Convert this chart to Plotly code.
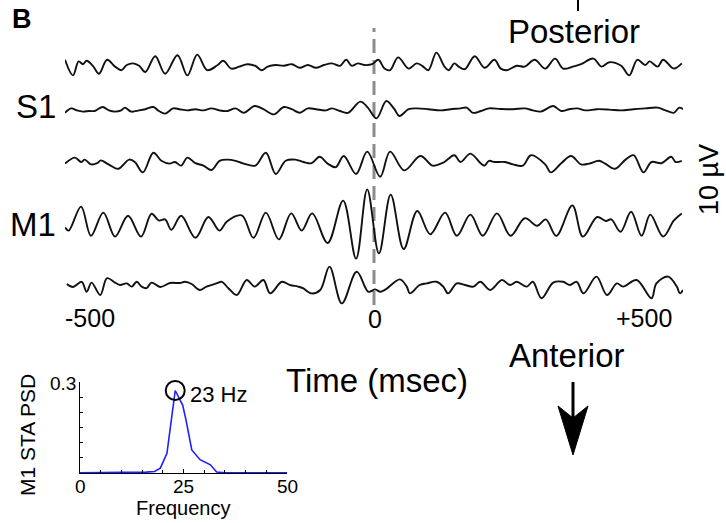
import plotly.graph_objects as go

W, H = 726, 523
FONT = "Liberation Sans, Arial, sans-serif"

# Spike-triggered LFP averages on five electrodes, posterior (top) to anterior (bottom).
# Times in ms relative to the spike, amplitudes in microvolts.
t_e1 = [-500, -487, -478, -471, -465, -455, -445, -432, -419, -409, -400, -390, -380, -370, -354,
        -338, -318, -302, -286, -270, -253, -244, -231, -218, -205, -192, -182, -172, -159, -146,
        -133, -120, -107, -94, -81, -68, -55, -45, -36, -26, -16, -3, 7, 17, 26, 39, 56, 69, 78, 88,
        101, 114, 121, 130, 137, 147, 163, 179, 195, 205, 215, 231, 244, 260, 277, 293, 306, 322,
        335, 355, 368, 381, 400, 413, 426, 439, 446, 459, 468, 485, 498]
uv_e1 = [1.3, -2.6, 0.9, 0.2, 1.05, -0.2, -2.2, 1.3, -0.4, -1.3, 0, 0.4, -0.2, -1.75, 2.2,
         -2.2, 2.45, -2.6, 2.6, -1.3, 0, 1.05, -0.9, -0.4, 0.2, -0.2, -1.3, -0.4, 0, -0.2,
         0.2, -0.7, 0, -0.7, 0, 0.4, -0.2, 1.3, -0.2, 0.4, 0, 0.2, 1.3, -0.9, -1.3, 1.9, -0.9, 0.4,
         -0.2, -1.3, 3.1, -0.4, -1.3, 0.4, -0.4, -1.05, 2.2, -0.7, 1.3, -0.9, -1.3, -0.2, -0.4,
         1.3, -0.9, 1.6, -0.9, -0.4, 0.2, 1.6, -0.4, 0.7, -0.2, -2.6, 1.3, 0, 0.9, -0.4, 1.3,
         -0.9, 0.4]

t_s1 = [-500, -490, -481, -471, -461, -452, -439, -429, -419, -409, -403, -393, -380, -370, -357,
        -348, -338, -325, -315, -302, -289, -276, -263, -250, -237, -224, -211, -193, -179, -162,
        -146, -133, -120, -107, -94, -78, -68, -55, -42, -22, -10, 4, 20, 33, 41, 56, 69, 88, 108,
        124, 140, 150, 160, 173, 186, 205, 225, 244, 257, 270, 290, 303, 316, 329, 342, 361, 381,
        400, 420, 439, 459, 472, 485, 494, 500]
uv_s1 = [-0.7, 0.4, -0.1, -0.4, -0.25, -0.25, 0.75, -0.1, -0.4, -0.1, 0.6, -0.4, -0.1, 0.2, 0.75,
         -0.25, -0.9, 0.4, 0.2, -0.1, 0.2, -0.1, 0.4, -0.1, -0.25, 0.4, -0.7, 1.0, 0.2, -1.1,
         0.75, 0.2, -0.7, 0.4, 0.2, -0.1, 0.4, -0.25, -0.7, 2.1, 0.6, -2.1, 2.25, 0.2, -1.5,
         0.2, 0.4, 0.2, -0.1, 0.2, 0.4, 0.6, -0.7, -0.25, 0.4, 0.25, 0.2, 0.4, -0.1, -0.4,
         1.0, -0.25, 0.2, 0.4, -0.1, 0.2, 0.1, -0.1, 0.2, 0.4, 0.6, -0.1, -0.7, 0.6, 0.2]

t_e3 = [-500, -484, -474, -468, -458, -448, -442, -432, -426, -414, -396, -387, -374, -357, -344,
        -331, -322, -312, -302, -289, -276, -263, -250, -237, -224, -211, -192, -175, -159, -143,
        -127, -114, -101, -88, -75, -62, -49, -29, -11, 10, 26, 49, 75, 95, 108, 114, 130, 140,
        156, 173, 179, 186, 195, 212, 225, 241, 254, 277, 286, 303, 319, 335, 348, 364, 374, 390,
        407, 420, 436, 449, 465, 481, 488, 498]
uv_e3 = [-0.4, 1.1, 0, 0.6, -0.6, -0.3, 0.4, -0.4, -0.9, -1.7, 0.6, 0, -2.6, 2.3, 0.3,
         -0.4, 0, -0.9, 1.1, -0.3, -0.9, -2.0, 0.3, 0.6, 0.3, -0.4, -0.9, 2.3, -3.0, 0.3,
         0.6, 0, -0.3, 1.3, -0.4, -1.3, 1.5, -3.0, 2.6, -3.7, 2.6, -2.1, 1.5, -0.9, -0.4,
         0, 1.7, 0, 2.1, -0.4, -0.9, 0.3, 0, 0, -0.6, -0.9, 1.7, -0.6, -2.6, -0.3,
         1.5, -0.6, -0.4, 0.3, -0.4, -1.7, 0.6, 1.7, -2.6, 0, -0.3, 1.3, 0, 0.3]

t_m1 = [-500, -494, -474, -458, -438, -419, -398, -377, -360, -348, -338, -328, -312, -289, -268,
        -250, -238, -214, -195, -175, -154, -134, -117, -100, -75, -50, -29, -11, 8, 27, 48, 70,
        91, 115, 134, 156, 176, 199, 221, 244, 264, 278, 295, 321, 338, 361, 375, 384, 399, 416,
        433, 447, 468, 485, 498]
uv_m1 = [-0.1, -0.9, 5.1, -2.2, 3.6, -2.4, 2.8, -2.4, 3.3, 1.6, 1.9, -0.7, 2.8, -2.7, 2.5,
         -0.9, 1.4, 2.9, -2.7, 3.6, -3.1, 3.4, -0.9, 3.4, -4.0, 6.6, -7.9, 9.4, -6.6, 8.1,
         -5.5, 4.0, -1.8, 3.6, -2.2, 3.1, -2.2, 3.4, -2.2, 2.2, 0.3, 1.9, -2.2, 5.4, -2.4,
         2.5, 1.5, 1.9, -1.2, 3.8, -2.2, 3.1, -2.4, 1.6, 3.4]

t_e5 = [-497, -487, -473, -465, -457, -443, -432, -419, -411, -400, -392, -384, -376, -368, -360,
        -346, -330, -314, -306, -295, -282, -271, -255, -246, -236, -222, -206, -193, -179, -168,
        -149, -136, -123, -115, -101, -87, -72, -52, -28, -9, 2, 10, 19, 42, 53, 58, 74, 85, 101,
        112, 120, 134, 147, 161, 172, 188, 207, 220, 231, 247, 257, 271, 290, 306, 317, 328, 339,
        360, 377, 393, 403, 425, 449, 457, 476, 490, 495, 500]
uv_e5 = [0.75, 0, 1.3, -1.2, 1.1, -2.0, 2.2, 1.1, 0.5, 0.9, 0.1, 1.3, 0.1, -0.3, 1.1,
         0, 1.0, 1.0, 1.3, 0.75, -0.75, 0.1, 0.9, 1.3, -0.25, -2.0, 1.75, 0.1, 1.75, -1.6,
         1.3, 0.5, 0.1, -0.3, -1.6, -0.75, 5.1, -4.1, 3.8, -1.2, -0.6, -1.2, -0.6, 1.9, 0.1,
         -1.6, 0.5, 0.9, 1.3, 0.1, -1.6, 0.9, 0.5, 0.1, 1.3, -0.75, 1.75, 0.5, 1.3, 0.1,
         1.3, -2.8, 1.1, 1.3, 0.5, 1.3, -1.6, 2.6, -2.0, 0.9, 0.1, 1.75, -2.8, 0.9, 2.6,
         0.1, -1.6, -0.75]

channel_labels = ["", "S1", "", "M1", ""]

# Power spectrum of the M1 spike-triggered average
psd_freq = [0, 3, 6, 8, 10, 13, 16, 18, 19.4, 21, 23, 24.8, 25.6, 27, 29, 31.5, 33, 35, 40, 45, 50]
psd_val = [0.001, 0.001, 0.002, 0.003, 0.002, 0.002, 0.003, 0.005, 0.016, 0.065, 0.272, 0.224,
           0.175, 0.076, 0.044, 0.027, 0.003, 0.001, 0.001, 0.001, 0.001]
psd_xticks = [0, 25, 50]
psd_ytick = 0.3

time_ticks = ["-500", "0", "+500"]

# ---- layout geometry (pixels) ----
PX_PER_UV = 4.0
TOP_UV = 65 / PX_PER_UV                 # trace 1 baseline sits 65 px below the top
baseline_px = [65, 110, 162, 227, 287]  # vertical stacking of the electrodes


def uv_at(py):
    return TOP_UV - py / PX_PER_UV


def px(x, y):
    return x / W, 1 - y / H


fig = go.Figure()

traces = [(t_e1, uv_e1), (t_s1, uv_s1), (t_e3, uv_e3), (t_m1, uv_m1), (t_e5, uv_e5)]
for (t, v), b in zip(traces, baseline_px):
    off = uv_at(b)
    fig.add_trace(go.Scatter(
        x=t, y=[val + off for val in v], mode="lines",
        line=dict(color="#111111", width=1.9, shape="spline", smoothing=1.0),
        hoverinfo="skip", xaxis="x", yaxis="y"))

# spike time marker
fig.add_shape(type="line", xref="x", yref="y", x0=0, x1=0, y0=uv_at(305), y1=uv_at(28),
              line=dict(color="#8c8c8c", width=3, dash="14px,7px"), layer="below")

# inset PSD
fig.add_trace(go.Scatter(x=psd_freq, y=psd_val, mode="lines",
                         line=dict(color="#1f1fff", width=1.6),
                         hoverinfo="skip", xaxis="x2", yaxis="y2"))
i_peak = max(range(len(psd_val)), key=lambda i: psd_val[i])
f_peak, p_peak = psd_freq[i_peak], psd_val[i_peak]
fig.add_trace(go.Scatter(x=[f_peak], y=[p_peak], mode="markers",
                         marker=dict(symbol="circle-open", size=19, color="black",
                                     line=dict(width=2, color="black")),
                         cliponaxis=False, hoverinfo="skip", xaxis="x2", yaxis="y2"))
fig.add_annotation(x=f_peak + 3.2, y=p_peak - 0.012, xref="x2", yref="y2",
                   text=f"{round(f_peak)} Hz", showarrow=False, xanchor="left", yanchor="middle",
                   font=dict(size=22, color="black", family=FONT))

# inset tick labels, set close to the axes
for f in psd_xticks:
    fig.add_annotation(x=f, y=0, xref="x2", yref="y2", text=str(f), showarrow=False,
                       xanchor="center", yanchor="top", yshift=-1,
                       font=dict(size=19, color="black", family=FONT))
fig.add_annotation(x=0, y=psd_ytick, xref="x2", yref="y2", text=f"{psd_ytick:g}",
                   showarrow=False, xanchor="right", yanchor="middle", xshift=-2, yshift=-1,
                   font=dict(size=19, color="black", family=FONT))


def label(text, x, y, size, **kw):
    xp, yp = px(x, y)
    args = dict(xanchor="center", yanchor="middle")
    args.update(kw)
    fig.add_annotation(x=xp, y=yp, xref="paper", yref="paper", text=text, showarrow=False,
                       font=dict(size=size, color="black", family=FONT), **args)


label("<b>B</b>", 22, 19, 27)
label("Posterior", 574, 31, 33)
label(channel_labels[1], 36, 107, 33)
label(channel_labels[3], 33, 225, 33)
label(time_ticks[0], 90, 318, 25)
label(time_ticks[1], 375, 319, 25)
label(time_ticks[2], 644, 318, 25)
label("10 \u00b5V", 709, 180, 27, textangle=-90)
label("Time (msec)", 377, 380, 33)
label("Anterior", 567, 355, 33)
label("Frequency", 183, 508, 20)
label("M1 STA PSD", 27, 435, 21, textangle=-90)

# posterior / anterior arrows
x0, y0 = px(578, 0)
x1, y1 = px(578, 11)
fig.add_shape(type="line", xref="paper", yref="paper", x0=x0, x1=x1, y0=y0, y1=y1,
              line=dict(color="black", width=2))
x0, y0 = px(573, 382)
x1, y1 = px(573, 418)
fig.add_shape(type="line", xref="paper", yref="paper", x0=x0, x1=x1, y0=y0, y1=y1,
              line=dict(color="black", width=3))
head = [(558, 406), (573, 455), (588, 406), (573, 418)]
path = "M " + " L ".join(f"{px(a, b)[0]:.5f},{px(a, b)[1]:.5f}" for a, b in head) + " Z"
fig.add_shape(type="path", xref="paper", yref="paper", path=path,
              fillcolor="black", line=dict(color="black", width=1))

fig.update_layout(
    width=W, height=H, margin=dict(l=0, r=0, t=0, b=0),
    paper_bgcolor="white", plot_bgcolor="rgba(0,0,0,0)", showlegend=False,
    xaxis=dict(domain=[65 / W, 683 / W], range=[-500, 500], visible=False, fixedrange=True),
    yaxis=dict(domain=[0, 1], range=[uv_at(H), uv_at(0)], visible=False, fixedrange=True),
    xaxis2=dict(domain=[80 / W, 287 / W], anchor="y2", range=[0, 50],
                showline=True, linecolor="black", linewidth=1.2, showgrid=False, zeroline=False,
                ticks="inside", ticklen=4, tickcolor="black", tickvals=psd_xticks,
                showticklabels=False,
                minor=dict(ticks="inside", ticklen=3, tickcolor="black", dtick=5, tick0=0,
                           showgrid=False)),
    yaxis2=dict(domain=[1 - 473 / H, 1 - 382 / H], anchor="x2", range=[0, 0.3],
                showline=True, linecolor="black", linewidth=1.2, showgrid=False, zeroline=False,
                ticks="inside", ticklen=4, tickcolor="black", tickvals=[psd_ytick],
                showticklabels=False,
                minor=dict(ticks="inside", ticklen=3, tickcolor="black", dtick=0.05, tick0=0,
                           showgrid=False)),
)

fig.write_html("out.html")
